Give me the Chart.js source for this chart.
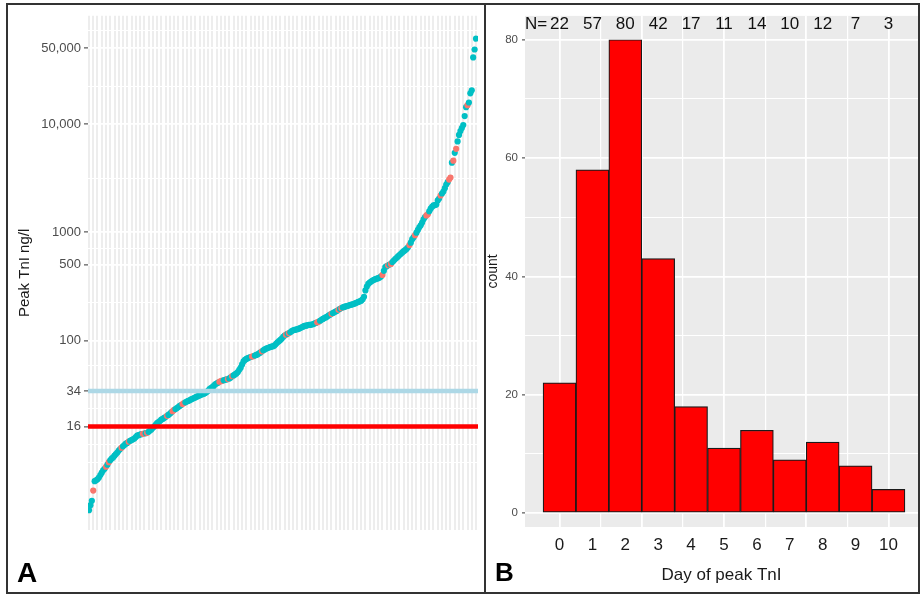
<!DOCTYPE html>
<html><head><meta charset="utf-8">
<script src="https://cdn.jsdelivr.net/npm/chart.js@4"></script>
<style>
html,body{margin:0;padding:0;background:#fff;width:920px;height:594px;overflow:hidden;}
#frame{position:absolute;left:6px;top:3px;width:914px;height:591px;box-sizing:border-box;border:2px solid #333;}
#divider{position:absolute;left:484px;top:3px;width:2px;height:591px;background:#333;}
canvas{position:absolute;}
#cA{left:8px;top:5px;}
#cB{left:486px;top:5px;}
.panel{position:absolute;font-family:'Liberation Sans',Arial,sans-serif;font-weight:bold;color:#000;line-height:normal;}
</style></head><body>
<div id="frame"></div><div id="divider"></div>
<canvas id="cA" width="476" height="587"></canvas>
<canvas id="cB" width="432" height="587"></canvas>
<div class="panel" style="left:17px;top:557px;font-size:28px">A</div>
<div class="panel" style="left:495px;top:557px;font-size:26px">B</div>
<script>
// ---------- Panel A data ----------
const peakTnI = [
  2.7, 3.0, 3.3, 4.1, 5.0, 5.1, 5.2, 5.4, 5.7, 6.0,
  6.3, 6.5, 6.8, 7.1, 7.5, 7.8, 8.1, 8.3, 8.6, 8.9,
  9.2, 9.6, 9.9, 10.2, 10.5, 10.8, 11.1, 11.3, 11.6, 11.8,
  12.0, 12.2, 12.4, 12.8, 13.2, 13.3, 13.5, 13.6, 13.7, 13.8,
  13.9, 14.0, 14.3, 14.7, 15.0, 15.6, 16.0, 16.6, 17.2, 17.6,
  18.0, 18.5, 18.8, 19.2, 19.6, 20.1, 20.5, 21.0, 21.6, 22.2,
  22.8, 23.2, 23.7, 24.2, 24.8, 25.3, 25.8, 26.4, 26.8, 27.2,
  27.6, 28.0, 28.5, 28.9, 29.3, 29.7, 30.2, 30.6, 31.0, 31.4,
  31.8, 32.2, 32.6, 33.3, 34.2, 35.4, 36.3, 37.0, 38.0, 39.3,
  40.0, 40.7, 41.5, 42.0, 42.5, 42.8, 43.2, 43.6, 43.9, 44.5,
  45.5, 46.7, 47.5, 48.5, 49.5, 51.0, 53.5, 56.0, 60.0, 64.0,
  66.0, 67.5, 68.5, 69.5, 70.3, 71.0, 71.5, 72.5, 73.5, 74.4,
  76.0, 77.5, 79.3, 81.0, 82.5, 84.0, 85.0, 86.0, 87.0, 87.8,
  88.5, 90.0, 93.0, 96.0, 98.5, 101, 104, 108, 111, 113,
  115, 117, 119, 122, 124, 125, 126, 127, 128.5, 130,
  132, 134, 136, 137, 138, 139, 139.5, 140, 141, 143,
  145, 147, 149, 152, 155, 158, 161, 163, 166, 170,
  173, 176, 179, 182, 185, 188, 192, 196, 199, 202,
  204, 206, 208, 210, 212, 214, 216, 218, 221, 224,
  227, 230, 233, 240, 253, 290, 315, 333, 343, 350,
  357, 363, 368, 372, 376, 381, 390, 403, 440, 477,
  485, 495, 503, 509, 530, 548, 565, 580, 598, 615,
  632, 650, 668, 683, 700, 725, 760, 800, 863, 900,
  938, 990, 1050, 1110, 1159, 1230, 1317, 1380, 1430, 1463,
  1560, 1650, 1720, 1769, 1780, 1800, 1966, 2050, 2185, 2280,
  2377, 2550, 2755, 2900, 3063, 3199, 4390, 4585, 5420, 5900,
  6900, 7930, 8600, 9190, 9790, 11840, 14300, 14930, 15800, 19230,
  20500, 41200, 48800, 61500
];
// 1-based positions of the points drawn in the second (salmon) colour
const salmonIdx = [4, 13, 15, 24, 29, 39, 40, 42, 56, 60, 61, 67, 68, 93, 94, 95, 99, 102,
  116, 117, 123, 140, 142, 162, 163, 172, 177, 179, 208, 212, 214, 227, 231, 239, 240,
  249, 255, 256, 258, 260, 268];
const thresholds = [34, 16];
const yTickValues = [16, 34, 100, 500, 1000, 10000, 50000];
const yTickLabels = ['16', '34', '100', '500', '1000', '10,000', '50,000'];
const yMinorValues = [7.5, 11, 23.3, 58.3, 223.6, 707, 3162, 22360, 72700];

// ---------- Panel B data ----------
const days = [0, 1, 2, 3, 4, 5, 6, 7, 8, 9, 10];
const dayLabels = ['0', '1', '2', '3', '4', '5', '6', '7', '8', '9', '10'];
const counts = [22, 58, 80, 43, 18, 11, 14, 9, 12, 8, 4];
const nLabels = ['22', '57', '80', '42', '17', '11', '14', '10', '12', '7', '3'];
const countTicks = [0, 20, 40, 60, 80];
const countMinor = [10, 30, 50, 70];
const dayGridBreaks = [0, 1.25, 2.5, 3.75, 5, 6.25, 7.5, 8.75, 10];
const dayGridMajor = [0, 2.5, 5, 7.5, 10];

Chart.defaults.font.family = "'Liberation Sans', Arial, sans-serif";

// ---------- Panel A chart ----------
const COL_TEAL = '#00BFC4', COL_SALMON = '#F8766D';
const thresholdColors = ['#ADD8E6', '#FF0000'];
const salmonSet = new Set(salmonIdx);
const nA = peakTnI.length;
const xMinA = 0.3, xMaxA = nA + 1.4;
const ptsA = peakTnI.map((v, i) => ({x: i + 1, y: v}));

new Chart(document.getElementById('cA'), {
  type: 'scatter',
  data: {
    datasets: [
      ...thresholds.map((t, k) => ({
        type: 'line', data: [{x: xMinA, y: t}, {x: xMaxA, y: t}],
        borderColor: thresholdColors[k], borderWidth: 4.5, pointRadius: 0, order: 0
      })),
      {
        data: ptsA, pointRadius: 3.1, pointBorderWidth: 0, borderWidth: 0,
        pointBackgroundColor: ctx => salmonSet.has(ctx.dataIndex + 1) ? COL_SALMON : COL_TEAL,
        backgroundColor: COL_TEAL, order: 1
      }
    ]
  },
  options: {
    responsive: false, animation: false, events: [],
    layout: {padding: {top: 7, right: 6, left: 0, bottom: 0}},
    plugins: {legend: {display: false}, tooltip: {enabled: false}},
    scales: {
      x: {
        type: 'linear', min: xMinA, max: xMaxA,
        afterBuildTicks: s => { const t = []; for (let i = 1; i <= nA; i += 3) t.push({value: i}); s.ticks = t; },
        ticks: {display: false},
        grid: {color: '#ededed', lineWidth: 2, drawTicks: false},
        border: {display: false},
        afterFit: s => { s.height = 62; }
      },
      y: {
        type: 'logarithmic', min: 1.77, max: 100000,
        afterBuildTicks: s => {
          s.ticks = yTickValues.concat(yMinorValues).sort((a, b) => a - b).map(v => ({value: v}));
        },
        ticks: {
          autoSkip: false, padding: 3, color: '#4d4d4d', font: {size: 13},
          callback: v => { const k = yTickValues.indexOf(v); return k >= 0 ? yTickLabels[k] : ''; }
        },
        grid: {
          color: '#ffffff',
          lineWidth: c => (c.tick && yTickValues.includes(c.tick.value)) ? 1.8 : 1.1,
          tickLength: 4,
          tickColor: c => (c.tick && yTickValues.includes(c.tick.value)) ? '#333333' : 'rgba(0,0,0,0)',
          tickWidth: 1
        },
        border: {display: false},
        title: {display: true, text: 'Peak TnI ng/l', color: '#1a1a1a', font: {size: 15}, padding: {top: 7.7, bottom: 0}},
        afterFit: s => { s.width = 80; }
      }
    }
  }
});

// ---------- Panel B chart ----------
const bgPlugin = {
  id: 'panelBg',
  beforeDraw(chart) {
    const {ctx, chartArea: a} = chart;
    ctx.save(); ctx.fillStyle = '#EBEBEB';
    ctx.fillRect(a.left, a.top, a.right - a.left, a.bottom - a.top);
    ctx.restore();
  }
};
const nPlugin = {
  id: 'nLabels',
  afterDraw(chart) {
    const {ctx, chartArea: a} = chart;
    const xs = chart.scales.x;
    ctx.save();
    ctx.font = "17px 'Liberation Sans', Arial, sans-serif";
    ctx.fillStyle = '#111';
    ctx.textBaseline = 'alphabetic';
    ctx.textAlign = 'left';
    ctx.fillText('N=', a.left, 24);
    ctx.textAlign = 'center';
    nLabels.forEach((t, i) => ctx.fillText(t, xs.getPixelForValue(days[i]), 24));
    ctx.restore();
  }
};
const xMinB = -1.049, xMaxB = 10.897;

new Chart(document.getElementById('cB'), {
  type: 'bar',
  data: {
    datasets: [{
      xAxisID: 'x', yAxisID: 'y',
      data: days.map((d, i) => ({x: d, y: counts[i]})),
      backgroundColor: '#FF0000', borderColor: '#1a1a1a', borderWidth: 1.2,
      borderSkipped: false, barPercentage: 1, categoryPercentage: 1
    }]
  },
  options: {
    responsive: false, animation: false, events: [],
    layout: {padding: {top: 7, right: 0, left: 0, bottom: 0}},
    plugins: {legend: {display: false}, tooltip: {enabled: false}},
    scales: {
      x: {
        type: 'linear', position: 'bottom', offset: false, min: xMinB, max: xMaxB,
        afterBuildTicks: s => { s.ticks = days.map(v => ({value: v})); },
        ticks: {autoSkip: false, maxRotation: 0, padding: 8, color: '#1a1a1a', font: {size: 17},
          callback: (v, i) => dayLabels[i]},
        grid: {display: false, drawTicks: false, offset: false},
        border: {display: false},
        title: {display: true, text: 'Day of peak TnI', color: '#1a1a1a', font: {size: 17}, padding: {top: 0, bottom: 6}},
        afterFit: s => { s.height = 65; }
      },
      x2: {
        type: 'linear', position: 'top', offset: false, min: xMinB, max: xMaxB,
        afterBuildTicks: s => { s.ticks = dayGridBreaks.map(v => ({value: v})); },
        ticks: {display: false},
        grid: {color: '#ffffff', drawTicks: false, offset: false,
          lineWidth: c => (c.tick && dayGridMajor.includes(c.tick.value)) ? 1.8 : 1.2},
        border: {display: false},
        afterFit: s => { s.height = 0; }
      },
      y: {
        type: 'linear', min: -2.35, max: 84.03,
        afterBuildTicks: s => {
          s.ticks = countTicks.concat(countMinor).sort((a, b) => a - b).map(v => ({value: v}));
        },
        ticks: {autoSkip: false, padding: 4, color: '#4d4d4d', font: {size: 11.5},
          callback: v => countTicks.includes(v) ? String(v) : ''},
        grid: {
          color: '#ffffff',
          lineWidth: c => (c.tick && countTicks.includes(c.tick.value)) ? 1.8 : 1.1,
          tickLength: 3,
          tickColor: c => (c.tick && countTicks.includes(c.tick.value)) ? '#333333' : 'rgba(0,0,0,0)',
          tickWidth: 1
        },
        border: {display: false},
        title: {display: true, text: 'count', color: '#1a1a1a', font: {size: 14, lineHeight: 1}, padding: {top: 0, bottom: 0}},
        afterFit: s => { s.width = 39; }
      }
    }
  },
  plugins: [bgPlugin, nPlugin]
});
</script>
</body></html>
